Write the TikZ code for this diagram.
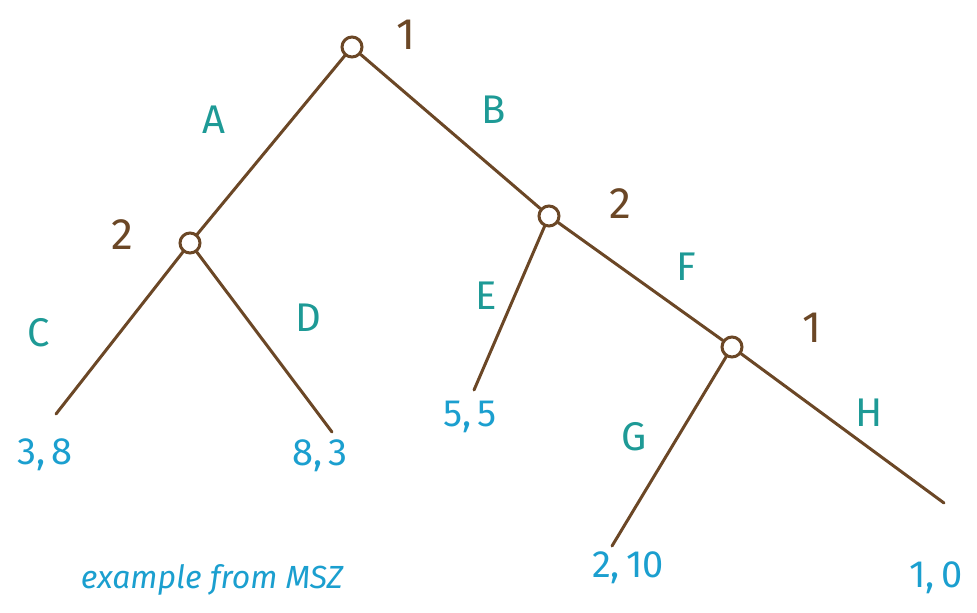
\documentclass[tikz,border=0pt]{standalone}
\usepackage{fontspec}
\setmainfont{Fira Sans}
\definecolor{brn}{HTML}{6B4726}
\definecolor{tl}{HTML}{1E9A96}
\definecolor{bl}{HTML}{1B9FCF}
\begin{document}
\begin{tikzpicture}[x=0.5pt,y=-0.5pt,
  dec/.style={circle,draw=brn,line width=1.5pt,inner sep=0pt,minimum size=10pt},
  edge/.style={draw=brn,line width=1.5pt,line cap=round},
  plr/.style={text=brn,font=\fontsize{22}{24}\selectfont},
  act/.style={text=tl,font=\fontsize{20}{24}\selectfont},
  pay/.style={text=bl,font=\fontsize{19}{22}\selectfont},
  note/.style={text=bl,font=\itshape\fontsize{16}{18}\selectfont}]
\useasboundingbox (0,0) rectangle (977,612);
% decision nodes
\node[dec] (r) at (352,47) {};
\node[dec] (l2) at (190,243) {};
\node[dec] (r2) at (549,216) {};
\node[dec] (r1) at (732,347) {};
% leaves
\coordinate (c) at (56,414);
\coordinate (d) at (332,432);
\coordinate (e) at (474,390);
\coordinate (g) at (612,546);
\coordinate (h) at (944,503);
% edges
\draw[edge] (r) -- (l2);
\draw[edge] (r) -- (r2);
\draw[edge] (l2) -- (c);
\draw[edge] (l2) -- (d);
\draw[edge] (r2) -- (e);
\draw[edge] (r2) -- (r1);
\draw[edge] (r1) -- (g);
\draw[edge] (r1) -- (h);
% player labels
\node[plr] (p1) at (406,35) {1};
\node[plr] (p2a) at (122,235) {2};
\node[plr] (p2b) at (620,204) {2};
\node[plr] (p1b) at (812,328) {1};
% action labels
\node[act] (la) at (214,120) {A};
\node[act] (lb) at (494,110) {B};
\node[act] (lc) at (39,333) {C};
\node[act] (ld) at (308,318) {D};
\node[act] (le) at (486,296) {E};
\node[act] (lf) at (686,267) {F};
\node[act] (lg) at (634,437) {G};
\node[act] (lh) at (869,413) {H};
% payoffs
\node[pay] (q1) at (45,455) {3,\,8};
\node[pay] (q2) at (320,456) {8,\,3};
\node[pay] (q3) at (470,417) {5,\,5};
\node[pay] (q4) at (628,568) {2,\,10};
\node[pay] (q5) at (936,578) {1,\,0};
\node[note] (n) at (212,580) {example from MSZ};
\end{tikzpicture}
\end{document}
